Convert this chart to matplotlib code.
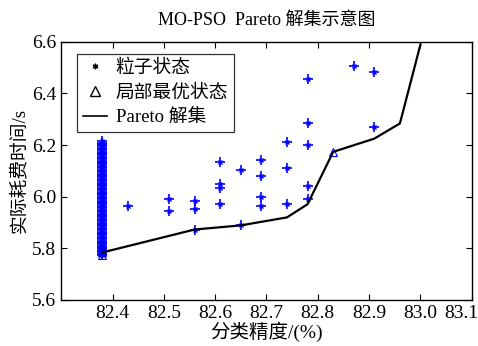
import matplotlib.pyplot as plt
from matplotlib.lines import Line2D
from matplotlib.transforms import ScaledTranslation

plt.rcParams['font.family'] = ['Liberation Serif', 'Noto Sans CJK SC']
plt.rcParams['axes.unicode_minus'] = False

# particle states (scatter)
col_x = 82.38
col_y = [5.775, 5.78, 5.785, 5.79, 5.795, 5.80, 5.805, 5.81, 5.815, 5.82, 5.825,
         5.83, 5.835, 5.84, 5.845, 5.85, 5.855, 5.86, 5.865, 5.87, 5.875, 5.88,
         5.885, 5.89, 5.895, 5.90, 5.905, 5.91, 5.915, 5.92, 5.925, 5.93, 5.935,
         5.94, 5.945, 5.95, 5.955, 5.96, 5.965, 5.97, 5.975, 5.98, 5.985, 5.99,
         5.995, 6.00, 6.005, 6.01, 6.015, 6.02, 6.025, 6.03, 6.035, 6.04, 6.045,
         6.05, 6.055, 6.06, 6.065, 6.07, 6.075, 6.08, 6.085, 6.09, 6.095, 6.10,
         6.105, 6.11, 6.115, 6.12, 6.125, 6.13, 6.135, 6.14, 6.145, 6.15, 6.155,
         6.16, 6.165, 6.17, 6.175, 6.18, 6.185, 6.19, 6.195, 6.20, 6.205, 6.21,
         6.215]
pts_x = [82.43, 82.51, 82.51, 82.56, 82.56, 82.56, 82.61, 82.61, 82.61, 82.61,
         82.65, 82.65, 82.69, 82.69, 82.69, 82.69, 82.74, 82.74, 82.74,
         82.78, 82.78, 82.78, 82.78, 82.78, 82.87, 82.91, 82.91]
pts_y = [5.963, 5.99, 5.944, 5.983, 5.952, 5.873, 6.135, 6.049, 6.034, 5.971,
         6.104, 5.889, 6.143, 6.08, 5.998, 5.963, 6.213, 6.112, 5.971,
         6.455, 6.284, 6.202, 6.041, 5.99, 6.506, 6.483, 6.272]

# local best states
best_x = [82.38, 82.38, 82.38, 82.38, 82.38, 82.83]
best_y = [5.775, 5.785, 5.795, 5.805, 5.815, 6.174]

# pareto front
pareto_x = [82.38, 82.56, 82.65, 82.74, 82.78, 82.83, 82.91, 82.96, 83.00]
pareto_y = [5.784, 5.873, 5.889, 5.92, 5.971, 6.174, 6.225, 6.284, 6.59]

fig = plt.figure(figsize=(4.78, 3.46), dpi=100)
ax = fig.add_axes([0.128, 0.133, 0.859, 0.746])

all_x = [col_x] * len(col_y) + pts_x
all_y = col_y + pts_y
ax.plot(all_x, all_y, linestyle='none', marker='+', color='blue', markersize=7, mew=1.2)
ax.plot(all_x, all_y, linestyle='none', marker='x', color='blue', markersize=3.5, mew=1.0)
ax.plot(best_x, best_y, linestyle='none', marker='^', mfc='none', mec='blue', markersize=6, mew=0.8)
ax.plot(pareto_x, pareto_y, color='black', linewidth=1.6)

ax.set_xlim(82.3, 83.1)
ax.set_ylim(5.6, 6.6)
ax.set_xticks([82.4, 82.5, 82.6, 82.7, 82.8, 82.9, 83.0, 83.1])
ax.set_xticklabels(['82.4', '82.5', '82.6', '82.7', '82.8', '82.9', '83.0', '83.1'])
ax.set_yticks([5.6, 5.8, 6.0, 6.2, 6.4, 6.6])
ax.set_yticklabels(['5.6', '5.8', '6.0', '6.2', '6.4', '6.6'])
ax.tick_params(direction='in', top=True, right=True, labelsize=14, length=4, color='black')
for s in ax.spines.values():
    s.set_linewidth(1.0)

# last x label sits at the figure edge, nudge it in a little
last = ax.get_xticklabels()[-1]
last.set_transform(last.get_transform() + ScaledTranslation(-0.1, 0, fig.dpi_scale_trans))

ax.set_title('MO-PSO  Pareto 解集示意图', fontsize=13, pad=12)
ax.set_xlabel('分类精度/(%)', fontsize=14, labelpad=0)
ax.set_ylabel('实际耗费时间/s', fontsize=13.5, labelpad=3)

handles = [
    Line2D([], [], linestyle='none', marker=(6, 2, 0), color='black', markersize=4),
    Line2D([], [], linestyle='none', marker='^', mfc='none', mec='black', markersize=7),
    Line2D([], [], color='black', linewidth=1.2),
]
labels = ['粒子状态', '局部最优状态', 'Pareto 解集']
leg = ax.legend(handles, labels, loc='upper left', bbox_to_anchor=(0.039, 0.953),
                fontsize=13.5, frameon=True, fancybox=False, borderpad=0.3,
                labelspacing=0.4, handlelength=1.3, handletextpad=0.45, borderaxespad=0)
leg.get_frame().set_edgecolor('black')
leg.get_frame().set_linewidth(0.9)

fig.savefig('out.png', dpi=100)
